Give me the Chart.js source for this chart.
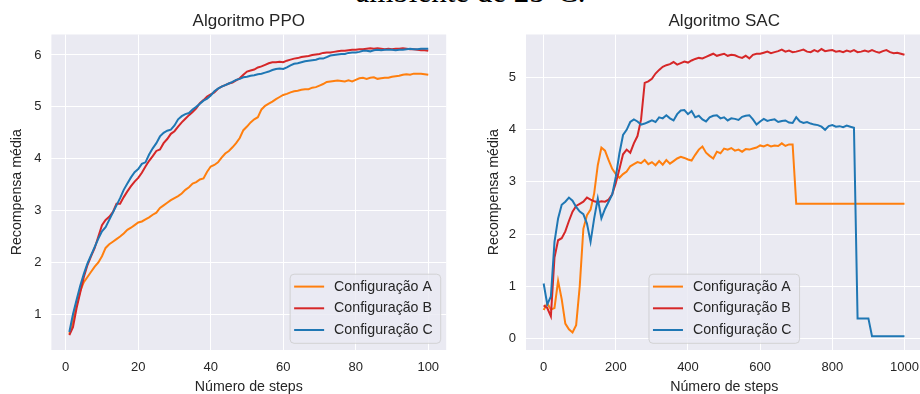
<!DOCTYPE html>
<html>
<head>
<meta charset="utf-8">
<script src="https://cdn.jsdelivr.net/npm/chart.js@4.4.0/dist/chart.umd.min.js"></script>
<style>
  html, body { margin: 0; padding: 0; background: #fff; }
  body { position: relative; width: 920px; height: 394px; overflow: hidden; }
  .caption {
    position: absolute; left: 0; top: -24px; width: 941px;
    text-align: center; white-space: nowrap; color: #000;
    font: 31px/31px 'Liberation Serif', 'Times New Roman', serif;
  }
  .panel { position: absolute; top: 0; height: 396px; }
  #ppoBox { left: 0; width: 460px; }
  #sacBox { left: 460px; width: 480px; }
</style>
</head>
<body>
<div class="caption">ambiente de 25°C.</div>
<div class="panel" id="ppoBox"><canvas id="ppo"></canvas></div>
<div class="panel" id="sacBox"><canvas id="sac"></canvas></div>
<script>
// ---- data ----------------------------------------------------------------
const seriesLabels = ['Configuração A', 'Configuração B', 'Configuração C'];

const ppoSteps = [1,2,3,4,5,6,7,8,9,10,11,12,13,14,15,16,17,18,19,20,
  21,22,23,24,25,26,27,28,29,30,31,32,33,34,35,36,37,38,39,40,
  41,42,43,44,45,46,47,48,49,50,51,52,53,54,55,56,57,58,59,60,
  61,62,63,64,65,66,67,68,69,70,71,72,73,74,75,76,77,78,79,80,
  81,82,83,84,85,86,87,88,89,90,91,92,93,94,95,96,97,98,99,100];

const ppoA = [0.62,0.88,1.18,1.45,1.62,1.72,1.82,1.92,2.00,2.12,
  2.28,2.35,2.40,2.45,2.50,2.56,2.63,2.67,2.72,2.77,
  2.79,2.83,2.87,2.92,2.96,3.05,3.10,3.15,3.20,3.24,
  3.28,3.33,3.40,3.45,3.52,3.55,3.60,3.62,3.75,3.85,
  3.88,3.93,4.02,4.10,4.15,4.22,4.30,4.40,4.55,4.62,
  4.70,4.76,4.80,4.95,5.02,5.06,5.10,5.15,5.19,5.23,
  5.25,5.28,5.30,5.31,5.33,5.34,5.34,5.37,5.38,5.41,
  5.44,5.48,5.49,5.50,5.51,5.50,5.49,5.51,5.49,5.52,
  5.55,5.56,5.54,5.56,5.57,5.54,5.55,5.56,5.56,5.58,
  5.59,5.60,5.62,5.63,5.62,5.64,5.64,5.64,5.63,5.62];

const ppoB = [0.60,0.75,1.12,1.42,1.72,1.95,2.12,2.28,2.50,2.72,
  2.82,2.88,2.97,3.13,3.13,3.26,3.37,3.47,3.56,3.63,
  3.73,3.85,3.96,4.05,4.15,4.18,4.30,4.38,4.48,4.53,
  4.62,4.70,4.77,4.84,4.90,4.97,5.07,5.13,5.20,5.24,
  5.28,5.35,5.39,5.42,5.45,5.47,5.51,5.55,5.62,5.68,
  5.70,5.72,5.76,5.78,5.81,5.84,5.86,5.86,5.87,5.86,
  5.89,5.91,5.93,5.94,5.96,5.97,5.98,6.00,6.01,6.02,
  6.04,6.05,6.05,6.06,6.07,6.08,6.08,6.09,6.10,6.10,
  6.11,6.11,6.12,6.13,6.12,6.13,6.12,6.11,6.12,6.11,
  6.12,6.12,6.13,6.12,6.11,6.11,6.10,6.09,6.09,6.08];

const ppoC = [0.66,1.00,1.28,1.55,1.78,1.98,2.14,2.30,2.46,2.60,
  2.68,2.82,2.96,3.10,3.24,3.40,3.52,3.64,3.74,3.80,
  3.90,3.93,4.08,4.20,4.30,4.43,4.50,4.54,4.56,4.64,
  4.76,4.82,4.86,4.88,4.95,5.00,5.06,5.12,5.16,5.22,
  5.30,5.35,5.39,5.42,5.45,5.48,5.52,5.54,5.57,5.58,
  5.60,5.61,5.63,5.64,5.66,5.68,5.71,5.73,5.74,5.73,
  5.76,5.80,5.83,5.84,5.86,5.88,5.89,5.90,5.91,5.93,
  5.93,5.96,5.99,6.00,6.01,6.02,6.02,6.04,6.05,6.05,
  6.06,6.08,6.08,6.07,6.09,6.10,6.09,6.10,6.10,6.10,
  6.09,6.10,6.10,6.11,6.12,6.11,6.11,6.12,6.12,6.12];

const sacSteps = [0,10,20,30,40,50,60,70,80,90,
  100,110,120,130,140,150,160,170,180,190,
  200,210,220,230,240,250,260,270,280,290,
  300,310,320,330,340,350,360,370,380,390,
  400,410,420,430,440,450,460,470,480,490,
  500,510,520,530,540,550,560,570,580,590,
  600,610,620,630,640,650,660,670,680,690,
  700,710,720,730,740,750,760,770,780,790,
  800,810,820,830,840,850,860,870,880,890,
  900,910,920,930,940,950,960,970,980,990,1000];

const sacA = [0.54,0.67,0.55,0.58,1.10,0.75,0.28,0.17,0.11,0.25,
  1.00,2.10,2.36,2.47,2.78,3.32,3.66,3.60,3.42,3.25,
  3.15,3.08,3.15,3.20,3.30,3.34,3.38,3.36,3.42,3.34,
  3.38,3.32,3.40,3.33,3.42,3.35,3.40,3.45,3.48,3.46,
  3.43,3.41,3.52,3.62,3.68,3.56,3.50,3.45,3.58,3.55,
  3.64,3.62,3.65,3.60,3.62,3.58,3.63,3.62,3.64,3.66,
  3.70,3.68,3.71,3.68,3.70,3.69,3.74,3.69,3.72,3.72,
  2.58,2.58,2.58,2.58,2.58,2.58,2.58,2.58,2.58,2.58,
  2.58,2.58,2.58,2.58,2.58,2.58,2.58,2.58,2.58,2.58,
  2.58,2.58,2.58,2.58,2.58,2.58,2.58,2.58,2.58,2.58,2.58];

const sacB = [0.63,0.58,0.42,1.55,1.88,1.92,2.05,2.25,2.43,2.54,
  2.58,2.62,2.70,2.66,2.63,2.61,2.63,2.62,2.66,2.76,
  2.98,3.25,3.53,3.62,3.56,3.74,3.88,4.20,4.90,4.93,
  4.98,5.08,5.15,5.21,5.24,5.26,5.30,5.25,5.28,5.31,
  5.29,5.33,5.36,5.38,5.37,5.40,5.43,5.46,5.42,5.44,
  5.46,5.42,5.44,5.43,5.40,5.38,5.42,5.37,5.44,5.46,
  5.46,5.48,5.50,5.47,5.49,5.51,5.54,5.50,5.52,5.49,
  5.50,5.52,5.54,5.50,5.49,5.53,5.50,5.55,5.51,5.52,
  5.53,5.50,5.51,5.49,5.52,5.50,5.53,5.49,5.50,5.52,
  5.50,5.53,5.50,5.48,5.51,5.53,5.49,5.47,5.48,5.46,5.44];

const sacC = [1.05,0.65,0.80,1.85,2.30,2.56,2.62,2.70,2.64,2.52,
  2.43,2.38,2.20,1.85,2.30,2.68,2.30,2.48,2.62,2.76,
  3.10,3.55,3.90,4.00,4.15,4.20,4.16,4.10,4.12,4.15,
  4.18,4.15,4.24,4.22,4.28,4.22,4.18,4.30,4.37,4.38,
  4.30,4.36,4.24,4.27,4.20,4.16,4.24,4.27,4.28,4.22,
  4.24,4.18,4.22,4.21,4.19,4.25,4.27,4.28,4.20,4.10,
  4.16,4.21,4.17,4.19,4.20,4.15,4.17,4.18,4.14,4.13,
  4.24,4.16,4.13,4.15,4.12,4.10,4.09,4.06,4.00,4.07,
  4.09,4.06,4.07,4.05,4.08,4.06,4.04,0.38,0.38,0.38,
  0.38,0.04,0.04,0.04,0.04,0.04,0.04,0.04,0.04,0.04,0.04];

const ppoXTicks = [0, 20, 40, 60, 80, 100];
const ppoYTicks = [1, 2, 3, 4, 5, 6];
const sacXTicks = [0, 200, 400, 600, 800, 1000];
const sacYTicks = [0, 1, 2, 3, 4, 5];

// ---- style ---------------------------------------------------------------
const SANS = "'Liberation Sans', Arial, sans-serif";
const INK = '#262626';
const PANEL_BG = '#EAEAF2';
const seriesColors = ['#ff7f0e', '#d62728', '#1f77b4'];

Chart.defaults.font.family = SANS;
Chart.defaults.color = INK;

// grey plotting area behind the grid
const plotBackground = {
  id: 'plotBackground',
  beforeDraw(chart) {
    const { ctx, chartArea: a } = chart;
    ctx.save();
    ctx.fillStyle = PANEL_BG;
    ctx.fillRect(a.left, a.top, a.right - a.left, a.bottom - a.top);
    ctx.restore();
  }
};

// framed legend drawn inside the plotting area
const boxedLegend = {
  id: 'boxedLegend',
  afterDatasetsDraw(chart, args, o) {
    const { ctx, chartArea: a } = chart;
    const sets = chart.data.datasets;
    ctx.save();
    ctx.font = `14.2px ${SANS}`;
    const textW = Math.max(...sets.map(d => ctx.measureText(d.label).width));
    const w = 4 + 30 + 10 + textW + 8;
    const rowGap = 21.7, padTop = 12.4, padBottom = 13.3;
    const h = padTop + rowGap * (sets.length - 1) + padBottom;
    const x = o.loc === 'lower center' ? (a.left + a.right) / 2 - w / 2 : a.right - 5.5 - w;
    const y = a.bottom - 6.7 - h;
    ctx.beginPath();
    ctx.roundRect(x, y, w, h, 4);
    ctx.fillStyle = 'rgba(234,234,242,0.8)';
    ctx.fill();
    ctx.lineWidth = 1;
    ctx.strokeStyle = 'rgba(204,204,204,0.8)';
    ctx.stroke();
    sets.forEach((d, i) => {
      const cy = y + padTop + i * rowGap;
      ctx.beginPath();
      ctx.moveTo(x + 4, cy);
      ctx.lineTo(x + 34, cy);
      ctx.strokeStyle = d.borderColor;
      ctx.lineWidth = 2;
      ctx.stroke();
      ctx.fillStyle = INK;
      ctx.textBaseline = 'middle';
      ctx.textAlign = 'left';
      ctx.fillText(d.label, x + 44, cy);
    });
    ctx.restore();
  }
};

function panel(id, cfg) {
  const datasets = cfg.series.map((vals, i) => ({
    label: seriesLabels[i],
    data: cfg.steps.map((s, k) => ({ x: s, y: vals[k] })),
    borderColor: seriesColors[i],
    backgroundColor: seriesColors[i],
    borderWidth: 2,
    pointRadius: 0,
    tension: 0,
    fill: false,
    order: cfg.series.length - i
  }));
  const axis = (ticksList, extra) => Object.assign({
    type: 'linear',
    afterBuildTicks: s => { s.ticks = ticksList.map(value => ({ value })); },
    grid: { color: '#ffffff', lineWidth: 1, drawTicks: false },
    border: { display: false },
    ticks: { color: INK, font: { size: 13 }, autoSkip: false, maxRotation: 0,
             callback: v => String(v) }
  }, extra);

  return new Chart(document.getElementById(id), {
    type: 'line',
    data: { datasets },
    options: {
      responsive: true,
      maintainAspectRatio: false,
      animation: false,
      devicePixelRatio: 1,
      events: [],
      layout: { padding: { left: 0, top: 0, right: cfg.padRight, bottom: 0 } },
      plugins: {
        legend: { display: false },
        tooltip: { enabled: false },
        title: {
          display: true, text: cfg.title, fullSize: false, color: INK,
          font: { size: 17, weight: 'normal' }, padding: { top: 11.3, bottom: 2.8 }
        },
        boxedLegend: { loc: cfg.legendLoc }
      },
      scales: {
        x: axis(cfg.xTicks, {
          min: cfg.xMin, max: cfg.xMax,
          afterFit: s => { s.height = 46; },
          ticks: { color: INK, font: { size: 13 }, autoSkip: false, maxRotation: 0,
                   padding: 9.4, callback: v => String(v) },
          title: { display: true, text: 'Número de steps', color: INK,
                   font: { size: 14.2 }, padding: { top: 0, bottom: 0.2 } }
        }),
        y: axis(cfg.yTicks, {
          min: cfg.yMin, max: cfg.yMax,
          afterFit: s => { s.width = cfg.yAxisWidth; },
          ticks: { color: INK, font: { size: 13 }, autoSkip: false,
                   padding: 10, callback: v => String(v) },
          title: { display: true, text: 'Recompensa média', color: INK,
                   font: { size: 14.2 }, padding: { top: cfg.yTitlePad, bottom: 0 } }
        })
      }
    },
    plugins: [plotBackground, boxedLegend]
  });
}

panel('ppo', {
  title: 'Algoritmo PPO',
  steps: ppoSteps, series: [ppoA, ppoB, ppoC],
  xTicks: ppoXTicks, yTicks: ppoYTicks,
  xMin: -3.95, xMax: 104.95, yMin: 0.312, yMax: 6.395,
  yAxisWidth: 51.4, padRight: 13.8, yTitlePad: 8.5,
  legendLoc: 'lower right'
});

panel('sac', {
  title: 'Algoritmo SAC',
  steps: sacSteps, series: [sacA, sacB, sacC],
  xTicks: sacXTicks, yTicks: sacYTicks,
  xMin: -48.95, xMax: 1049.95, yMin: -0.226, yMax: 5.829,
  yAxisWidth: 66, padRight: 17.5, yTitlePad: 25.1,
  legendLoc: 'lower center'
});
</script>
</body>
</html>
